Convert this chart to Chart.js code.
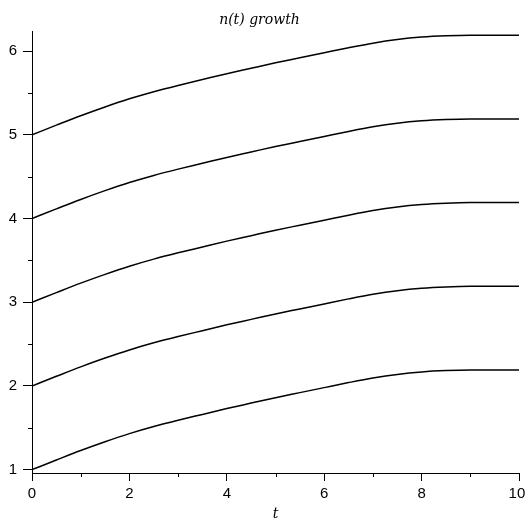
<!DOCTYPE html>
<html>
<head>
<meta charset="utf-8">
<script src="https://cdn.jsdelivr.net/npm/chart.js@4"></script>
<style>
  html, body { margin: 0; padding: 0; background: #fff; }
  canvas { display: block; }
</style>
</head>
<body>
<canvas id="growth" width="526" height="521"></canvas>
<script>
// t values and the five curves n(t)
const tValues = [0, 0.5, 1, 1.5, 2, 2.5, 3, 3.5, 4, 4.5, 5, 5.5, 6, 6.5, 7, 7.5, 8, 8.5, 9, 9.5, 10];
const n1 = [1.00, 1.115, 1.228, 1.333, 1.43, 1.515, 1.59, 1.66, 1.73, 1.795, 1.86, 1.92, 1.98, 2.04, 2.095, 2.138, 2.167, 2.183, 2.19, 2.19, 2.19];
const n2 = [2.00, 2.115, 2.228, 2.333, 2.43, 2.515, 2.59, 2.66, 2.73, 2.795, 2.86, 2.92, 2.98, 3.04, 3.095, 3.138, 3.167, 3.183, 3.19, 3.19, 3.19];
const n3 = [3.00, 3.115, 3.228, 3.333, 3.43, 3.515, 3.59, 3.66, 3.73, 3.795, 3.86, 3.92, 3.98, 4.04, 4.095, 4.138, 4.167, 4.183, 4.19, 4.19, 4.19];
const n4 = [4.00, 4.115, 4.228, 4.333, 4.43, 4.515, 4.59, 4.66, 4.73, 4.795, 4.86, 4.92, 4.98, 5.04, 5.095, 5.138, 5.167, 5.183, 5.19, 5.19, 5.19];
const n5 = [5.00, 5.115, 5.228, 5.333, 5.43, 5.515, 5.59, 5.66, 5.73, 5.795, 5.86, 5.92, 5.98, 6.04, 6.095, 6.138, 6.167, 6.183, 6.19, 6.19, 6.19];

const xTicks = [0, 2, 4, 6, 8, 10];
const xMinorTicks = [1, 3, 5, 7, 9];
const yTicks = [1, 2, 3, 4, 5, 6];
const yMinorTicks = [1.5, 2.5, 3.5, 4.5, 5.5];

const tickFont = { family: "'Liberation Sans', Arial, sans-serif", size: 15 };

function toPoints(ys) {
    return tValues.map(function (t, i) { return { x: t, y: ys[i] }; });
}

// the short unlabelled ticks between the numbered ones
const minorTicks = {
    id: 'minorTicks',
    afterDraw: function (chart) {
        const ctx = chart.ctx;
        const xs = chart.scales.x;
        const ys = chart.scales.y;
        ctx.save();
        ctx.strokeStyle = '#000';
        ctx.lineWidth = 1;
        ctx.beginPath();
        xMinorTicks.forEach(function (v) {
            const px = Math.round(xs.getPixelForValue(v)) + 0.5;
            ctx.moveTo(px, xs.top);
            ctx.lineTo(px, xs.top + 4);
        });
        yMinorTicks.forEach(function (v) {
            const py = Math.round(ys.getPixelForValue(v)) + 0.5;
            ctx.moveTo(ys.right, py);
            ctx.lineTo(ys.right - 4, py);
        });
        ctx.stroke();
        ctx.restore();
    }
};

const series = [n1, n2, n3, n4, n5];

new Chart(document.getElementById('growth'), {
    type: 'line',
    data: {
        datasets: series.map(function (s) {
            return {
                data: toPoints(s),
                borderColor: '#000',
                borderWidth: 1.5,
                pointRadius: 0,
                fill: false,
                cubicInterpolationMode: 'monotone'
            };
        })
    },
    options: {
        responsive: false,
        animation: false,
        layout: { padding: { left: 0, right: 7, top: 0, bottom: 0 } },
        plugins: {
            legend: { display: false },
            tooltip: { enabled: false },
            title: {
                display: true,
                text: 'n(t) growth',
                color: '#000',
                font: { family: "'DejaVu Serif', serif", size: 14, style: 'italic', weight: 'normal', lineHeight: 1.2 },
                padding: { top: 12, bottom: 2.2 }
            }
        },
        scales: {
            x: {
                type: 'linear',
                min: 0,
                max: 10,
                afterBuildTicks: function (scale) {
                    scale.ticks = xTicks.map(function (v) { return { value: v }; });
                },
                afterFit: function (scale) {
                    scale.height = 48;
                    scale.paddingRight = 0;
                },
                grid: { drawOnChartArea: false, drawTicks: true, tickLength: 8, color: '#000', lineWidth: 1 },
                border: { display: true, color: '#000', width: 1 },
                ticks: {
                    color: '#000',
                    font: tickFont,
                    padding: 4,
                    maxRotation: 0,
                    // last label sits against the edge, nudge it inwards
                    callback: function (v) { return v === 10 ? '10 ' : String(v); }
                },
                title: {
                    display: true,
                    text: 't',
                    color: '#000',
                    font: { family: "'DejaVu Serif', serif", size: 14, style: 'italic', lineHeight: 1 },
                    padding: 0
                }
            },
            y: {
                type: 'linear',
                min: 0.96,
                max: 6.24,
                afterBuildTicks: function (scale) {
                    scale.ticks = yTicks.map(function (v) { return { value: v }; });
                },
                afterFit: function (scale) {
                    scale.width = 32;
                },
                grid: { drawOnChartArea: false, drawTicks: true, tickLength: 9, color: '#000', lineWidth: 1 },
                border: { display: true, color: '#000', width: 1 },
                ticks: { color: '#000', font: tickFont, padding: 6 }
            }
        }
    },
    plugins: [minorTicks]
});
</script>
</body>
</html>
